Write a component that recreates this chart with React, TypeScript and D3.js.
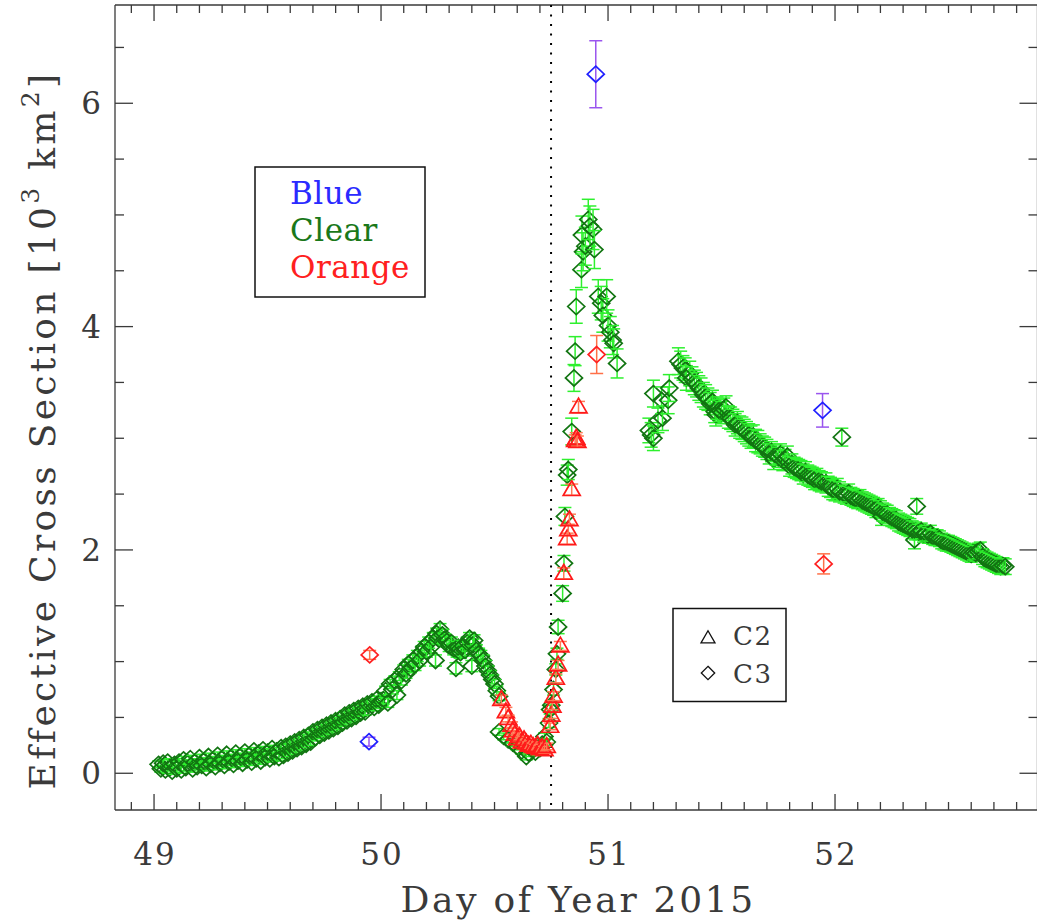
import React from "react";
import * as d3 from "d3";

// [day of year, cross section (10^3 km^2), 1-sigma error]
type Pt = [number, number, number];

const clearC3: Pt[] = [
  [49.02, 0.08, 0.03], [49.03, 0.04, 0.03], [49.04, 0.09, 0.03], [49.05, 0.03, 0.03], [49.06, 0.10, 0.03],
  [49.07, 0.05, 0.03], [49.08, 0.02, 0.03], [49.09, 0.08, 0.03], [49.10, 0.04, 0.03], [49.11, 0.10, 0.03],
  [49.12, 0.03, 0.03], [49.13, 0.12, 0.03], [49.14, 0.05, 0.03], [49.15, 0.09, 0.03], [49.16, 0.13, 0.03],
  [49.17, 0.04, 0.03], [49.18, 0.10, 0.03], [49.19, 0.06, 0.03], [49.20, 0.14, 0.03], [49.21, 0.07, 0.03],
  [49.22, 0.11, 0.03], [49.23, 0.05, 0.03], [49.24, 0.15, 0.03], [49.25, 0.08, 0.03], [49.26, 0.12, 0.03],
  [49.27, 0.06, 0.03], [49.28, 0.16, 0.03], [49.29, 0.09, 0.03], [49.30, 0.13, 0.03], [49.31, 0.07, 0.03],
  [49.32, 0.17, 0.03], [49.33, 0.10, 0.03], [49.34, 0.14, 0.03], [49.35, 0.08, 0.03], [49.36, 0.18, 0.03],
  [49.37, 0.11, 0.03], [49.38, 0.15, 0.03], [49.39, 0.09, 0.03], [49.40, 0.19, 0.03], [49.41, 0.12, 0.03],
  [49.42, 0.16, 0.03], [49.43, 0.10, 0.03], [49.44, 0.20, 0.03], [49.45, 0.13, 0.03], [49.46, 0.18, 0.03],
  [49.47, 0.11, 0.03], [49.48, 0.21, 0.03], [49.49, 0.14, 0.03], [49.50, 0.19, 0.03], [49.51, 0.13, 0.03],
  [49.52, 0.22, 0.03], [49.53, 0.15, 0.03], [49.54, 0.20, 0.03], [49.55, 0.14, 0.03], [49.56, 0.23, 0.03],
  [49.57, 0.16, 0.03], [49.58, 0.24, 0.03], [49.59, 0.18, 0.03], [49.60, 0.26, 0.03], [49.61, 0.20, 0.03],
  [49.62, 0.28, 0.03], [49.63, 0.22, 0.03], [49.64, 0.30, 0.03], [49.65, 0.24, 0.03], [49.66, 0.32, 0.03],
  [49.67, 0.26, 0.03], [49.68, 0.34, 0.03], [49.69, 0.28, 0.03], [49.70, 0.37, 0.03], [49.71, 0.32, 0.03],
  [49.72, 0.39, 0.03], [49.73, 0.34, 0.03], [49.74, 0.41, 0.03], [49.75, 0.36, 0.03], [49.76, 0.43, 0.03],
  [49.77, 0.38, 0.03], [49.78, 0.45, 0.03], [49.79, 0.40, 0.03], [49.80, 0.47, 0.03], [49.81, 0.42, 0.03],
  [49.82, 0.49, 0.03], [49.83, 0.45, 0.03], [49.84, 0.52, 0.03], [49.85, 0.47, 0.03], [49.86, 0.54, 0.03],
  [49.87, 0.49, 0.03], [49.88, 0.56, 0.03], [49.89, 0.51, 0.03], [49.90, 0.58, 0.03], [49.91, 0.54, 0.03],
  [49.92, 0.60, 0.03], [49.93, 0.55, 0.03], [49.94, 0.62, 0.03], [49.96, 0.64, 0.03], [49.97, 0.59, 0.03],
  [49.98, 0.66, 0.03], [49.99, 0.61, 0.03], [50.00, 0.65, 0.03],
  [50.01, 0.66, 0.04], [50.02, 0.74, 0.04], [50.03, 0.63, 0.04], [50.04, 0.80, 0.04], [50.05, 0.75, 0.04],
  [50.06, 0.83, 0.04], [50.07, 0.70, 0.04], [50.08, 0.87, 0.04], [50.09, 0.83, 0.04], [50.10, 0.93, 0.04],
  [50.11, 0.89, 0.04], [50.12, 0.98, 0.04], [50.13, 0.94, 0.04], [50.14, 1.01, 0.05], [50.15, 0.97, 0.05],
  [50.16, 1.05, 0.05], [50.17, 1.01, 0.05], [50.18, 1.09, 0.05], [50.19, 1.13, 0.05], [50.20, 1.09, 0.05],
  [50.21, 1.17, 0.05], [50.22, 1.13, 0.05], [50.23, 1.21, 0.05], [50.24, 1.01, 0.05], [50.245, 1.25, 0.05],
  [50.25, 1.21, 0.05], [50.26, 1.29, 0.05], [50.27, 1.24, 0.05], [50.28, 1.20, 0.05], [50.29, 1.18, 0.05],
  [50.30, 1.14, 0.05], [50.31, 1.17, 0.05], [50.32, 1.11, 0.05], [50.33, 0.94, 0.05], [50.335, 1.09, 0.05],
  [50.34, 1.13, 0.05], [50.35, 1.08, 0.05], [50.36, 1.14, 0.05], [50.37, 1.10, 0.05], [50.38, 1.17, 0.05],
  [50.39, 1.21, 0.05], [50.40, 0.96, 0.05], [50.405, 1.15, 0.05], [50.41, 1.19, 0.05], [50.42, 1.10, 0.05],
  [50.43, 1.07, 0.05], [50.44, 1.05, 0.05], [50.45, 1.01, 0.05], [50.46, 0.96, 0.05], [50.47, 0.92, 0.04],
  [50.48, 0.88, 0.04], [50.49, 0.84, 0.04], [50.50, 0.80, 0.04], [50.51, 0.74, 0.04], [50.52, 0.69, 0.04],
  [50.52, 0.37, 0.03], [50.54, 0.33, 0.03], [50.56, 0.30, 0.03], [50.58, 0.27, 0.03], [50.60, 0.24, 0.03],
  [50.62, 0.20, 0.03], [50.64, 0.15, 0.03], [50.65, 0.18, 0.03], [50.66, 0.22, 0.03], [50.68, 0.19, 0.03],
  [50.70, 0.22, 0.03], [50.71, 0.26, 0.03], [50.72, 0.33, 0.03], [50.73, 0.28, 0.03], [50.74, 0.45, 0.04],
  [50.745, 0.57, 0.04], [50.75, 0.61, 0.04], [50.76, 0.75, 0.05], [50.77, 0.93, 0.05], [50.775, 1.07, 0.05],
  [50.78, 1.31, 0.06], [50.80, 1.61, 0.07], [50.806, 1.88, 0.07], [50.81, 2.30, 0.08], [50.82, 2.67, 0.09],
  [50.825, 2.72, 0.09], [50.84, 3.06, 0.12], [50.85, 3.54, 0.12], [50.855, 3.78, 0.13], [50.86, 4.18, 0.15],
  [50.883, 4.51, 0.16], [50.89, 4.67, 0.17], [50.885, 4.82, 0.17], [50.90, 4.72, 0.17], [50.913, 4.96, 0.18],
  [50.92, 4.90, 0.18], [50.934, 4.87, 0.18], [50.94, 4.69, 0.17], [50.957, 4.27, 0.15], [50.97, 4.21, 0.15],
  [50.977, 4.10, 0.15], [50.994, 4.27, 0.15], [51.00, 4.01, 0.14], [51.01, 3.95, 0.14], [51.02, 3.88, 0.13],
  [51.025, 3.85, 0.13], [51.04, 3.67, 0.13],
  [51.18, 3.07, 0.11], [51.19, 3.03, 0.11], [51.20, 3.00, 0.11], [51.20, 3.40, 0.12], [51.22, 3.16, 0.11],
  [51.236, 3.34, 0.12], [51.24, 3.18, 0.11], [51.265, 3.34, 0.12], [51.27, 3.45, 0.12],
  [51.31, 3.69, 0.12], [51.32, 3.66, 0.12], [51.33, 3.63, 0.11], [51.34, 3.61, 0.11], [51.345, 3.54, 0.11],
  [51.36, 3.58, 0.11], [51.37, 3.53, 0.11], [51.38, 3.50, 0.11], [51.39, 3.48, 0.11], [51.40, 3.45, 0.11],
  [51.41, 3.43, 0.11], [51.42, 3.39, 0.11], [51.43, 3.37, 0.11], [51.44, 3.35, 0.10], [51.45, 3.31, 0.10],
  [51.46, 3.33, 0.10], [51.47, 3.24, 0.10], [51.475, 3.21, 0.10], [51.48, 3.27, 0.10], [51.49, 3.25, 0.10],
  [51.50, 3.23, 0.10], [51.51, 3.26, 0.10], [51.52, 3.28, 0.10], [51.53, 3.19, 0.10], [51.54, 3.18, 0.10],
  [51.55, 3.16, 0.10], [51.56, 3.12, 0.10], [51.57, 3.14, 0.10], [51.58, 3.10, 0.10], [51.59, 3.09, 0.10],
  [51.60, 3.07, 0.10], [51.61, 3.05, 0.10], [51.62, 3.03, 0.10], [51.63, 3.01, 0.10], [51.64, 3.02, 0.10],
  [51.65, 2.98, 0.10], [51.66, 2.97, 0.10], [51.67, 2.95, 0.09], [51.68, 2.93, 0.09], [51.69, 2.92, 0.09],
  [51.70, 2.90, 0.09], [51.71, 2.86, 0.09], [51.72, 2.88, 0.09], [51.73, 2.81, 0.09], [51.74, 2.85, 0.09],
  [51.75, 2.83, 0.09], [51.76, 2.86, 0.09], [51.77, 2.80, 0.09], [51.78, 2.81, 0.09], [51.79, 2.84, 0.09],
  [51.80, 2.75, 0.09], [51.81, 2.77, 0.09], [51.82, 2.74, 0.09], [51.83, 2.73, 0.09], [51.84, 2.72, 0.09],
  [51.85, 2.71, 0.09], [51.86, 2.68, 0.09], [51.87, 2.70, 0.09], [51.88, 2.67, 0.09], [51.89, 2.66, 0.09],
  [51.90, 2.65, 0.09], [51.91, 2.63, 0.09], [51.92, 2.64, 0.09], [51.93, 2.62, 0.09], [51.94, 2.61, 0.09],
  [51.96, 2.60, 0.09], [51.97, 2.57, 0.09], [51.98, 2.56, 0.09], [51.99, 2.54, 0.09], [52.00, 2.53, 0.09],
  [52.01, 2.55, 0.09], [52.02, 2.52, 0.09], [52.03, 3.01, 0.08], [52.04, 2.50, 0.08], [52.05, 2.49, 0.08],
  [52.06, 2.51, 0.08], [52.07, 2.48, 0.08], [52.08, 2.47, 0.08], [52.09, 2.46, 0.08], [52.10, 2.45, 0.08],
  [52.11, 2.46, 0.08], [52.12, 2.44, 0.08], [52.13, 2.43, 0.08], [52.14, 2.42, 0.08], [52.15, 2.41, 0.08],
  [52.16, 2.40, 0.08], [52.17, 2.39, 0.08], [52.18, 2.37, 0.08], [52.19, 2.38, 0.08], [52.20, 2.36, 0.08],
  [52.205, 2.30, 0.08], [52.21, 2.34, 0.08], [52.22, 2.33, 0.08], [52.23, 2.32, 0.08], [52.24, 2.30, 0.08],
  [52.25, 2.29, 0.08], [52.26, 2.28, 0.08], [52.27, 2.27, 0.08], [52.28, 2.25, 0.08], [52.29, 2.24, 0.08],
  [52.30, 2.23, 0.08], [52.31, 2.22, 0.08], [52.32, 2.21, 0.08], [52.33, 2.20, 0.08], [52.34, 2.18, 0.08],
  [52.35, 2.09, 0.08], [52.355, 2.17, 0.08], [52.36, 2.39, 0.07], [52.37, 2.16, 0.07], [52.38, 2.17, 0.07],
  [52.39, 2.14, 0.07], [52.40, 2.15, 0.07], [52.41, 2.13, 0.07], [52.42, 2.15, 0.07], [52.43, 2.12, 0.07],
  [52.44, 2.11, 0.07], [52.45, 2.11, 0.07], [52.46, 2.10, 0.07], [52.47, 2.08, 0.07], [52.48, 2.07, 0.07],
  [52.49, 2.06, 0.07], [52.50, 2.06, 0.07], [52.51, 2.05, 0.07], [52.52, 2.04, 0.07], [52.53, 2.03, 0.07],
  [52.54, 2.02, 0.07], [52.55, 2.01, 0.07], [52.56, 2.00, 0.07], [52.57, 1.99, 0.07], [52.58, 1.98, 0.07],
  [52.59, 1.97, 0.07], [52.60, 1.96, 0.07], [52.61, 1.98, 0.07], [52.62, 1.97, 0.07], [52.63, 1.99, 0.07],
  [52.64, 2.00, 0.07], [52.65, 1.94, 0.07], [52.66, 1.92, 0.07], [52.67, 1.91, 0.07], [52.68, 1.90, 0.07],
  [52.69, 1.89, 0.07], [52.70, 1.88, 0.07], [52.71, 1.87, 0.07], [52.72, 1.86, 0.07], [52.73, 1.85, 0.07],
  [52.74, 1.86, 0.07], [52.75, 1.85, 0.07],
];

const orangeC2: Pt[] = [
  [50.53, 0.66, 0.04], [50.55, 0.55, 0.04], [50.56, 0.49, 0.03], [50.575, 0.43, 0.03], [50.58, 0.38, 0.03],
  [50.59, 0.35, 0.03], [50.60, 0.31, 0.03], [50.61, 0.33, 0.03], [50.62, 0.28, 0.03], [50.63, 0.30, 0.03],
  [50.64, 0.27, 0.03], [50.65, 0.25, 0.03], [50.66, 0.26, 0.03], [50.67, 0.24, 0.03], [50.68, 0.23, 0.03],
  [50.69, 0.25, 0.03], [50.70, 0.22, 0.03], [50.71, 0.23, 0.03], [50.72, 0.21, 0.03], [50.73, 0.24, 0.03],
  [50.745, 0.42, 0.03], [50.75, 0.52, 0.03], [50.755, 0.60, 0.03], [50.76, 0.69, 0.04], [50.77, 0.85, 0.04],
  [50.78, 0.97, 0.04], [50.79, 1.14, 0.04], [50.805, 1.79, 0.05], [50.82, 2.10, 0.05], [50.825, 2.18, 0.05],
  [50.83, 2.27, 0.05], [50.84, 2.54, 0.05], [50.855, 2.98, 0.05], [50.86, 3.00, 0.05], [50.865, 2.97, 0.05],
  [50.87, 3.28, 0.05],
];

const orangeC3: Pt[] = [
  [49.95, 1.06, 0.04],
  [50.95, 3.75, 0.17],
  [51.95, 1.875, 0.09],
];

const blueC3: Pt[] = [
  [49.947, 0.283, 0.04],
  [50.946, 6.26, 0.30],
  [51.945, 3.25, 0.15],
];

const xMajorTicks = [49, 50, 51, 52];
const yMajorTicks = [0, 2, 4, 6];
const filterNames = ["Blue", "Clear", "Orange"];
const filterColors = ["#2a2aff", "#1a781a", "#ff2020"];
const perihelionDay = 50.749;

const W = 1037;
const H = 924;
const FONT = "'DejaVu Serif', serif";
const INK = "#3a3a3a";

const x = d3.scaleLinear().domain([48.828, 52.892]).range([115, 1037.5]);
const y = d3.scaleLinear().domain([-0.329, 6.88]).range([810, 5]);

const xMinor = d3.range(48.9, 52.85, 0.1).map((v) => Math.round(v * 10) / 10);
const yMinor = d3.range(0, 6.9, 0.5).filter((v) => v % 2 !== 0);

function diamond(cx: number, cy: number, w: number, h: number) {
  return `M${cx},${cy - h}L${cx + w},${cy}L${cx},${cy + h}L${cx - w},${cy}Z`;
}
function triangle(cx: number, cy: number, s: number) {
  const h = (s * Math.sqrt(3)) / 2;
  return `M${cx},${cy - h * 0.6}L${cx + s / 2},${cy + h * 0.4}L${cx - s / 2},${cy + h * 0.4}Z`;
}

function ErrBar({ p, color }: { p: Pt; color: string }) {
  const cx = x(p[0]);
  const y0 = y(p[1] - p[2]);
  const y1 = y(p[1] + p[2]);
  const cw = 6.5;
  return (
    <g stroke={color} strokeWidth={1.5}>
      <line x1={cx} x2={cx} y1={y0} y2={y1} />
      <line x1={cx - cw} x2={cx + cw} y1={y0} y2={y0} />
      <line x1={cx - cw} x2={cx + cw} y1={y1} y2={y1} />
    </g>
  );
}

function Series({
  data,
  color,
  errColor,
  shape,
}: {
  data: Pt[];
  color: string;
  errColor: string;
  shape: "diamond" | "triangle";
}) {
  return (
    <g>
      {data.map((p, i) => (
        <g key={i}>
          <ErrBar p={p} color={errColor} />
          <path
            d={shape === "diamond" ? diamond(x(p[0]), y(p[1]), 8.5, 8) : triangle(x(p[0]), y(p[1]), 17)}
            fill="none"
            stroke={color}
            strokeWidth={1.7}
          />
        </g>
      ))}
    </g>
  );
}

export default function App() {
  const left = x.range()[0];
  const right = x.range()[1];
  const top = y.range()[1];
  const bottom = y.range()[0];
  return (
    <svg
      width={W}
      height={H}
      style={{ position: "absolute", left: 0, top: 0, background: "#fff" }}
      fontFamily={FONT}
    >
      {/* frame */}
      <g stroke={INK} strokeWidth={1.3} fill="none">
        <line x1={left} x2={right} y1={bottom} y2={bottom} />
        <line x1={left} x2={right} y1={top} y2={top} />
        <line x1={left} x2={left} y1={top} y2={bottom} />
        <line x1={right} x2={right} y1={top} y2={bottom} />
        {xMajorTicks.map((t) => (
          <g key={`xM${t}`}>
            <line x1={x(t)} x2={x(t)} y1={bottom} y2={bottom - 16} />
            <line x1={x(t)} x2={x(t)} y1={top} y2={top + 16} />
          </g>
        ))}
        {xMinor
          .filter((t) => !xMajorTicks.includes(t))
          .map((t) => (
            <g key={`xm${t}`}>
              <line x1={x(t)} x2={x(t)} y1={bottom} y2={bottom - 8} />
              <line x1={x(t)} x2={x(t)} y1={top} y2={top + 8} />
            </g>
          ))}
        {yMajorTicks.map((t) => (
          <g key={`yM${t}`}>
            <line x1={left} x2={left + 18} y1={y(t)} y2={y(t)} />
            <line x1={right} x2={right - 18} y1={y(t)} y2={y(t)} />
          </g>
        ))}
        {yMinor.map((t) => (
          <g key={`ym${t}`}>
            <line x1={left} x2={left + 9} y1={y(t)} y2={y(t)} />
            <line x1={right} x2={right - 9} y1={y(t)} y2={y(t)} />
          </g>
        ))}
      </g>

      {/* tick labels */}
      <g fill={INK} fontSize={31}>
        {xMajorTicks.map((t) => (
          <text key={`xl${t}`} x={x(t) + 1} y={865} textAnchor="middle" letterSpacing={2}>
            {t}
          </text>
        ))}
        {yMajorTicks.map((t) => (
          <text key={`yl${t}`} x={101} y={y(t)} textAnchor="end" dominantBaseline="central">
            {t}
          </text>
        ))}
      </g>

      {/* axis titles */}
      <text
        x={(left + right) / 2 + 2}
        y={912}
        textAnchor="middle"
        fontSize={36}
        letterSpacing={2.7}
        fill={INK}
      >
        Day of Year 2015
      </text>
      <text
        transform={`translate(55,430) rotate(-90)`}
        textAnchor="middle"
        fontSize={36}
        letterSpacing={3.3}
        fill={INK}
      >
        Effective Cross Section [10
        <tspan fontSize={25} dy={-16}>3</tspan>
        <tspan dy={16}> km</tspan>
        <tspan fontSize={25} dy={-16}>2</tspan>
        <tspan dy={16}>]</tspan>
      </text>

      {/* perihelion marker */}
      <line
        x1={x(perihelionDay)}
        x2={x(perihelionDay)}
        y1={top}
        y2={bottom}
        stroke="#000"
        strokeWidth={2}
        strokeDasharray="2 7.5"
      />

      {/* data */}
      <Series data={clearC3} color="#127512" errColor="#2ef02e" shape="diamond" />
      <Series data={orangeC2} color="#ff1a1a" errColor="#ff7a55" shape="triangle" />
      <Series data={orangeC3} color="#ff2020" errColor="#ff7048" shape="diamond" />
      <Series data={blueC3} color="#2020ff" errColor="#9a55ee" shape="diamond" />

      {/* filter legend */}
      <rect x={255} y={167} width={170} height={130} fill="none" stroke="#111" strokeWidth={1.5} />
      {filterNames.map((n, i) => (
        <text key={n} x={290} y={204 + i * 37} fontSize={31} letterSpacing={0.5} fill={filterColors[i]}>
          {n}
        </text>
      ))}

      {/* instrument legend */}
      <rect x={673} y={608.5} width={113} height={93} fill="none" stroke="#111" strokeWidth={1.5} />
      <path d={triangle(708, 638, 14)} fill="none" stroke="#111" strokeWidth={1.3} />
      <path d={diamond(708, 673, 6.7, 6.7)} fill="none" stroke="#111" strokeWidth={1.3} />
      <text x={733} y={645} fontSize={26} letterSpacing={1.5} fill={INK}>
        C2
      </text>
      <text x={733} y={683} fontSize={26} letterSpacing={1.5} fill={INK}>
        C3
      </text>
    </svg>
  );
}
